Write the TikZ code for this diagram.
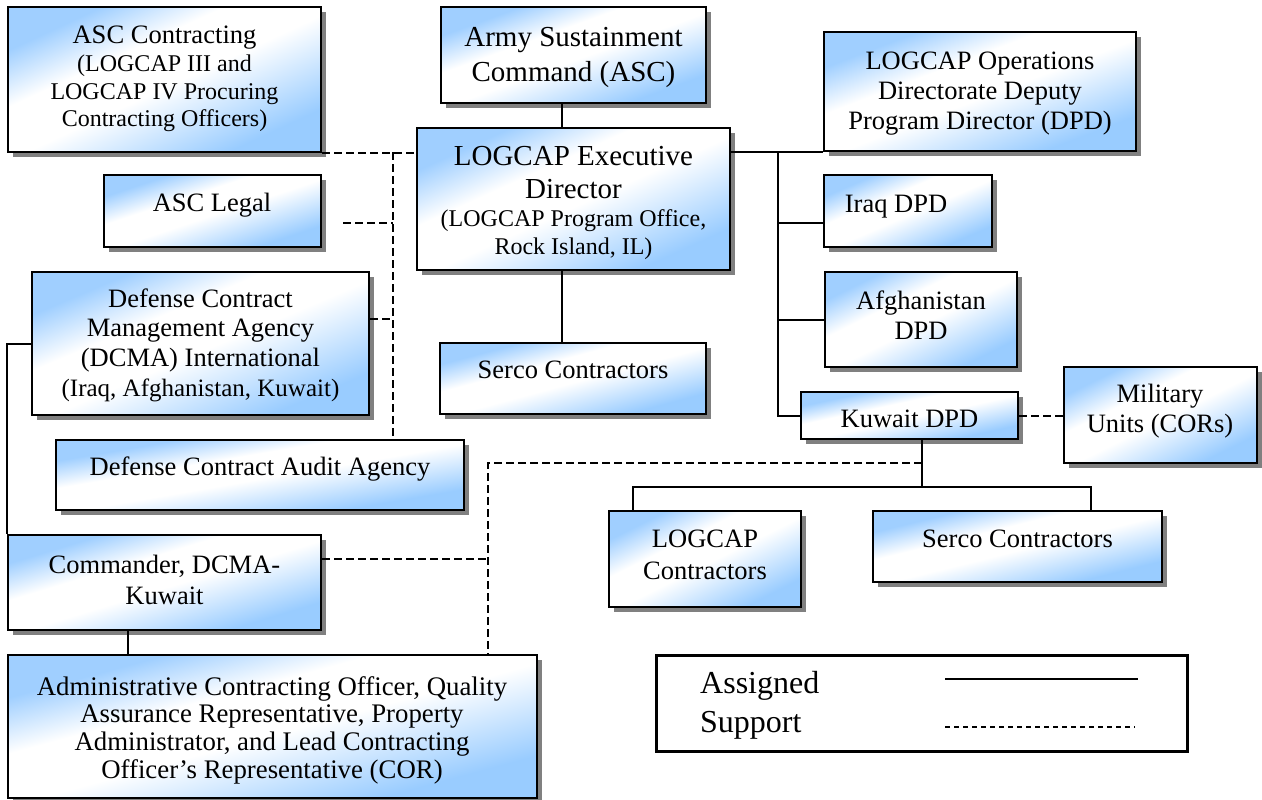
\documentclass[tikz,border=0pt]{standalone}
\usepackage{fontspec}
\setmainfont{Liberation Serif}
\usetikzlibrary{fit}
\definecolor{lb}{RGB}{153,204,255}
\definecolor{lbt}{RGB}{160,207,255}
\definecolor{shd}{RGB}{128,128,128}
\pgfdeclarehorizontalshading{bwb}{100bp}{color(0bp)=(lbt); color(25bp)=(lbt); color(39bp)=(white); color(52bp)=(white); color(75bp)=(lb); color(100bp)=(lb)}
\newcommand{\szM}{\fontsize{26.5}{30}\selectfont}
\newcommand{\szL}{\fontsize{29}{35}\selectfont}
\newcommand{\szS}{\fontsize{24}{27.6}\selectfont}
\newcommand{\szG}{\fontsize{32}{39}\selectfont}
\tikzset{
  boxline/.style={draw=black, line width=2pt, inner sep=0pt},
  txt/.style={inner sep=0pt, align=center, font=\szM},
  conn/.style={draw=black, line width=2pt},
  dsh/.style={draw=black, line width=2pt, dash pattern=on 8pt off 4pt},
}
% #1 name, #2 x1, #3 y1, #4 x2, #5 y2 (pixel coordinates, y downwards)
\newcommand{\gbox}[5]{%
  \fill[shd] (#2+5,#3+5) rectangle (#4+5,#5+5);
  \begin{scope}[transform canvas={shift={(#2,#5)}, xscale={(#4-#2)/10}, yscale={(#5-#3)/10}}]
    \shade[shading=bwb, shading angle=-45] (0pt,0pt) rectangle (10pt,10pt);
  \end{scope}
  \node[boxline, fit={(#2,#3) (#4,#5)}] (#1) {};
}
\begin{document}
\begin{tikzpicture}[x=1pt,y=-1pt]
\useasboundingbox (0,0) rectangle (1262,800);
% boxes
\gbox{ascC}{8}{7}{321}{152}
\gbox{legal}{104}{175}{321}{247}
\gbox{army}{441}{7}{706}{103}
\gbox{exec}{417}{128}{730}{270}
\gbox{dpd}{824}{32}{1136}{151}
\gbox{iraq}{824}{175}{992}{247}
\gbox{afg}{825}{272}{1017}{367}
\gbox{kuw}{801}{392}{1018}{439}
\gbox{mil}{1064}{367}{1257}{463}
\gbox{sercoA}{440}{343}{706}{414}
\gbox{dcma}{32}{272}{369}{415}
\gbox{dcaa}{56}{440}{464}{510}
\gbox{cmdr}{8}{535}{321}{630}
\gbox{admin}{8}{655}{537}{798}
\gbox{logc}{609}{511}{801}{607}
\gbox{sercoB}{873}{511}{1162}{582}
\node[draw=black, line width=3pt, fill=white, inner sep=0pt, fit={(656,655) (1187,751)}] (legend) {};
% texts
\node[txt, font=\fontsize{24}{27.7}\selectfont] (ascC-t) at (164.5,79) {\fontsize{26.6}{27.7}\selectfont ASC Contracting\\(LOGCAP III and\\LOGCAP IV Procuring\\Contracting Officers)};
\node[txt, anchor=base] (legal-t) at (212,211) {ASC Legal};
\node[txt, font=\szL] (army-t) at (573.5,57.5) {Army Sustainment\\Command (ASC)};
\node[txt, font=\fontsize{24}{27.7}\selectfont] (exec-t) at (573.5,203) {\szL LOGCAP Executive\\[5.3pt]\szL Director\\(LOGCAP Program Office,\\Rock Island, IL)};
\node[txt] (dpd-t) at (980,94) {LOGCAP Operations\\Directorate Deputy\\Program Director (DPD)};
\node[txt, anchor=base] (iraq-t) at (896,212) {Iraq DPD};
\node[txt] (afg-t) at (921,315) {Afghanistan\\DPD};
\node[txt, anchor=base] (kuw-t) at (909.5,427) {Kuwait DPD};
\node[txt] (mil-t) at (1160,411) {Military\\Units (CORs)};
\node[txt, anchor=base] (sercoA-t) at (573,378) {Serco Contractors};
\node[txt, font=\fontsize{26.5}{29.7}\selectfont] (dcma-t) at (200.5,345) {Defense Contract\\Management Agency\\(DCMA) International\\\fontsize{25}{29}\selectfont (Iraq, Afghanistan, Kuwait)};
\node[txt, anchor=base] (dcaa-t) at (260,475) {Defense Contract Audit Agency};
\node[txt, font=\fontsize{26.5}{31}\selectfont] (cmdr-t) at (164.5,580) {Commander, DCMA-\\Kuwait};
\node[txt, font=\fontsize{26.8}{27.7}\selectfont] (admin-t) at (272,730) {Administrative Contracting Officer, Quality\\Assurance Representative, Property\\Administrator, and Lead Contracting\\Officer’s Representative (COR)};
\node[txt, font=\fontsize{26.5}{32}\selectfont] (logc-t) at (705,554.5) {LOGCAP\\Contractors};
\node[txt, anchor=base] (sercoB-t) at (1017.5,547) {Serco Contractors};
\node[inner sep=0pt, anchor=base west, font=\szG] (leg-a) at (700,693) {Assigned};
\node[inner sep=0pt, anchor=base west, font=\szG] (leg-s) at (700,732) {Support};
% coordinates
\coordinate (c1) at (562,0);
\coordinate (bx) at (778,0);
\coordinate (iq) at (778,223);
\coordinate (ks) at (922,487);
\coordinate (b1) at (633,487);
\coordinate (b2) at (1091,487);
\coordinate (d1) at (922,463);
\coordinate (d2) at (488,463);
\coordinate (d3) at (488,559);
\coordinate (c2) at (128,0);
\coordinate (v) at (393,152);
\coordinate (lg) at (343,223);
\coordinate (dm) at (393,319);
\coordinate (la1) at (945,679);
\coordinate (la2) at (1138,679);
\coordinate (ls1) at (945,727);
\coordinate (ls2) at (1135,727);
% solid connectors
\draw[conn] (army.south -| c1) -- (exec.north -| c1);
\draw[conn] (exec.south -| c1) -- (sercoA.north -| c1);
\draw[conn] (dpd.south west -| exec.east) -- (dpd.south west);
\draw[conn] (bx |- dpd.south) -- (bx |- kuw.west) -- (kuw.west);
\draw[conn] (iq) -- (iq -| iraq.west);
\draw[conn] (bx |- afg.west) -- (afg.west);
\draw[conn] (kuw.south -| ks) -- (ks);
\draw[conn] (b1 |- logc.north) -- (b1) -- (b2) -- (b2 |- sercoB.north);
\draw[conn] (dcma.west) -- (dcma.west -| cmdr.north west) -- (cmdr.north west);
\draw[conn] (c2 |- cmdr.south) -- (c2 |- admin.north);
% dashed connectors
\draw[dsh] (kuw.east) -- (kuw.east -| mil.west);
\draw[dsh] (d1) -- (d2) -- (d2 |- admin.north);
\draw[dsh] (d3 -| cmdr.east) -- (d3);
\draw[dsh] (ascC.south east) -- (ascC.south east -| exec.west);
\draw[dsh] (v) -- (v |- dcaa.north);
\draw[dsh] (lg) -- (lg -| v);
\draw[dsh] (dm -| dcma.east) -- (dm);
% legend lines
\draw[conn] (la1) -- (la2);
\draw[draw=black, line width=1.5pt, dash pattern=on 5pt off 4pt] (ls1) -- (ls2);
\end{tikzpicture}
\end{document}
